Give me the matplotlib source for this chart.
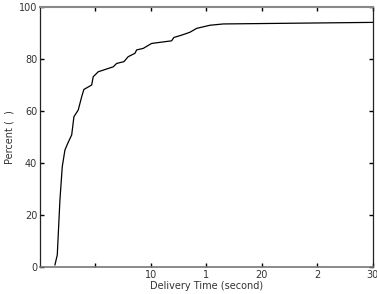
import numpy as np
import matplotlib.pyplot as plt

# delivery time (seconds) vs cumulative percent
delay = [1.35, 1.56, 1.80, 2.01, 2.25, 2.55, 2.86, 3.06, 3.24, 3.45, 3.76, 3.96,
         4.66, 4.80, 5.25, 6.60, 6.91, 7.57, 7.95, 8.56, 8.71, 9.31, 10.06,
         11.86, 12.07, 12.77, 13.51, 14.12, 15.32, 16.52, 30.0]
percent = [0.8, 4.6, 25.8, 38.6, 45.0, 48.0, 50.8, 57.8, 59.0, 60.4, 65.5, 68.3,
           70.0, 73.2, 75.1, 77.0, 78.3, 79.0, 80.9, 82.2, 83.5, 84.1, 86.0,
           87.0, 88.3, 89.2, 90.3, 91.8, 93.0, 93.5, 94.1]

xticks = [5, 10, 15, 20, 25, 30]
xticklabels = ['', '10', '1', '20', '2', '30']
yticks = [0, 20, 40, 60, 80, 100]

plt.rcParams['font.family'] = 'DejaVu Sans'
txt = '#333333'

fig = plt.figure(figsize=(3.77, 2.94), dpi=100)
ax = fig.add_axes([0.106, 0.092, 0.883, 0.884])
ax.plot(delay, percent, color='black', linewidth=0.9)

ax.set_xlim(0, 30)
ax.set_ylim(0, 100)
ax.set_xticks(xticks)
ax.set_xticklabels(xticklabels)
ax.set_yticks(yticks)
ax.tick_params(direction='in', length=3, width=1, labelsize=7, labelcolor=txt,
               top=True, right=True, pad=2)
for s in ['left', 'bottom', 'right']:
    ax.spines[s].set_color('#222222')
    ax.spines[s].set_linewidth(0.9)
ax.spines['top'].set_color('#888888')
ax.spines['top'].set_linewidth(1.5)
ax.spines['bottom'].set_color('#777777')
ax.spines['bottom'].set_linewidth(1.2)

ax.set_xlabel('Delivery Time (second)', fontsize=7, color=txt, labelpad=1)
ax.set_ylabel('Percent (  )', fontsize=7, color=txt, labelpad=3)

fig.savefig('out.png', dpi=100)
